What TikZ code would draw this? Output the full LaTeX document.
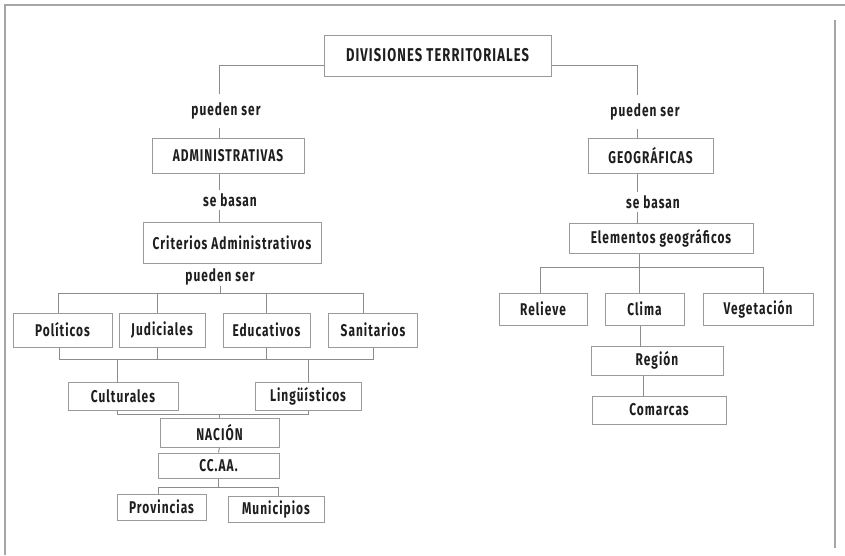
\documentclass[tikz,border=0pt]{standalone}
\usepackage{fontspec}
\setmainfont{Fira Sans}
\newfontfamily\lblfont{Fira Sans}[FakeStretch=0.7,LetterSpace=6]

\definecolor{boxgray}{HTML}{9A9A9A}
\definecolor{linegray}{HTML}{8C8C8C}
\definecolor{inkdark}{HTML}{1E1E1E}

\tikzset{
  cajon/.style={draw=boxgray, line width=1pt, inner sep=0pt, text=inkdark,
    font=\lblfont\bfseries\fontsize{17}{20}\selectfont},
  rotulo/.style={inner sep=0pt, text=inkdark,
    font=\lblfont\bfseries\fontsize{17}{20}\selectfont},
  enlace/.style={draw=linegray, line width=0.9pt},
  marco/.style={draw=gray!70, line width=1.2pt},
}

\begin{document}
\begin{tikzpicture}[x=1pt, y=-1pt, line cap=butt, line join=miter]

  %% ════ marco ════
  \draw[marco] (845,5) -- (5,5) -- (5,555);
  \draw[marco] (835,20) -- (835,548);

  %% ════ cajas ════
  \node[cajon, minimum width=227pt, minimum height=41pt, font=\lblfont\bfseries\fontsize{18.5}{22}\selectfont] (divis) at (437.5,55.5) {DIVISIONES TERRITORIALES};
  \node[cajon, minimum width=152pt, minimum height=35pt] (admin) at (228,155.5) {ADMINISTRATIVAS};
  \node[cajon, minimum width=125pt, minimum height=35pt] (geo)   at (650.5,155.5) {GEOGRÁFICAS};
  \node[cajon, minimum width=178pt, minimum height=41pt] (crit)  at (232,242.5) {Criterios Administrativos};
  \node[cajon, minimum width=184pt, minimum height=30pt] (elem)  at (661,238) {Elementos geográficos};

  \node[cajon, minimum width=99pt, minimum height=34pt] (pol) at (62.5,330) {Políticos};
  \node[cajon, minimum width=86pt, minimum height=34pt] (jud) at (162,330) {Judiciales};
  \node[cajon, minimum width=87pt, minimum height=34pt] (edu) at (266.5,330) {Educativos};
  \node[cajon, minimum width=89pt, minimum height=34pt] (san) at (373,330) {Sanitarios};
  \node[cajon, minimum width=110pt, minimum height=28pt] (cul) at (123,396) {Culturales};
  \node[cajon, minimum width=106pt, minimum height=28pt] (lin) at (308,396) {Lingüísticos};
  \node[cajon, minimum width=119pt, minimum height=29pt] (nac) at (219.5,432.5) {NACIÓN};
  \node[cajon, minimum width=121pt, minimum height=25pt] (ccaa) at (218.5,465.5) {CC.AA.};
  \node[cajon, minimum width=89pt, minimum height=26pt] (prov) at (161.5,507) {Provincias};
  \node[cajon, minimum width=96pt, minimum height=26pt] (mun)  at (276,509) {Municipios};

  \node[cajon, minimum width=88pt, minimum height=32pt]  (rel) at (543,309) {Relieve};
  \node[cajon, minimum width=79pt, minimum height=32pt]  (cli) at (644.5,309) {Clima};
  \node[cajon, minimum width=110pt, minimum height=32pt] (veg) at (758,309) {Vegetación};
  \node[cajon, minimum width=132pt, minimum height=29pt] (reg) at (657,360.5) {Región};
  \node[cajon, minimum width=134pt, minimum height=28pt] (com) at (659,410) {Comarcas};

  %% ════ rótulos ════
  \node[rotulo, minimum height=33pt] (puedI) at (226,111) {pueden ser};
  \node[rotulo, minimum height=33pt] (puedD) at (645,112) {pueden ser};
  \node[rotulo, minimum height=20pt] (basaI) at (230,200) {se basan};
  \node[rotulo, minimum height=20pt] (basaD) at (653,202) {se basan};
  \node[rotulo, minimum height=16pt] (puedC) at (220,277) {pueden ser};

  \coordinate (ejeI) at (219,0);
  \coordinate (ejeD) at (637,0);

  %% ════ enlaces: rama izquierda ════
  \draw[enlace] ([yshift=-9.5pt]divis.west) -| (puedI.north -| ejeI);
  \draw[enlace] (puedI.south -| ejeI) -- (admin.north -| ejeI);
  \draw[enlace] (admin.south -| ejeI) -- (basaI.north -| ejeI);
  \draw[enlace] (basaI.south -| ejeI) -- (crit.north -| ejeI);

  \draw[enlace] (puedC.south) -- ++(0,8) coordinate (busA);
  \draw[enlace] ([xshift=-4.5pt]pol.north) |- (busA) -| ([xshift=-10pt]san.north);
  \draw[enlace] ([xshift=-5pt]jud.north) -- ++(0,-20);
  \draw[enlace] (edu.north) -- ++(0,-20);

  \draw[enlace] ([xshift=-3.5pt]pol.south) |- ([yshift=-12pt]san.south) -- (san.south);
  \draw[enlace] ([xshift=-5pt]jud.south) -- ++(0,12);
  \draw[enlace] (edu.south) -- ++(0,12);
  \draw[enlace] ([xshift=-6pt]cul.north) -- ++(0,-23);
  \draw[enlace] (lin.north) -- ++(0,-23);

  \draw[enlace] ([xshift=-6pt]cul.south) |- ([yshift=3pt]nac.north) -| (lin.south);
  \draw[enlace] ([yshift=3pt]nac.north) -- (nac.north);
  \draw[enlace] (nac.south) -- (ccaa.north);
  \draw[enlace] (ccaa.south) -- ++(0,9) coordinate (busC);
  \draw[enlace] ([xshift=-3.5pt]prov.north) |- (busC) -| ([xshift=2pt]mun.north);

  %% ════ enlaces: rama derecha ════
  \draw[enlace] ([yshift=-9.5pt]divis.east) -| (puedD.north -| ejeD);
  \draw[enlace] (puedD.south -| ejeD) -- (geo.north -| ejeD);
  \draw[enlace] (geo.south -| ejeD) -- (basaD.north -| ejeD);
  \draw[enlace] (basaD.south -| ejeD) -- (elem.north -| ejeD);

  \draw[enlace] ([xshift=-22pt]elem.south) -- ++(0,14) coordinate (busE);
  \draw[enlace] ([xshift=-3pt]rel.north) |- (busE) -| ([xshift=5pt]veg.north);
  \draw[enlace] ([xshift=-5.5pt]cli.north) -- ++(0,-26);
  \draw[enlace] ([xshift=-4.5pt]cli.south) -- ++(0,21);
  \draw[enlace] ([xshift=-14pt]reg.south) -- ++(0,21);

  % lienzo fijo 845 x 555
  \pgfresetboundingbox
  \path[use as bounding box] (0,0) rectangle (845,555);
\end{tikzpicture}
\end{document}
